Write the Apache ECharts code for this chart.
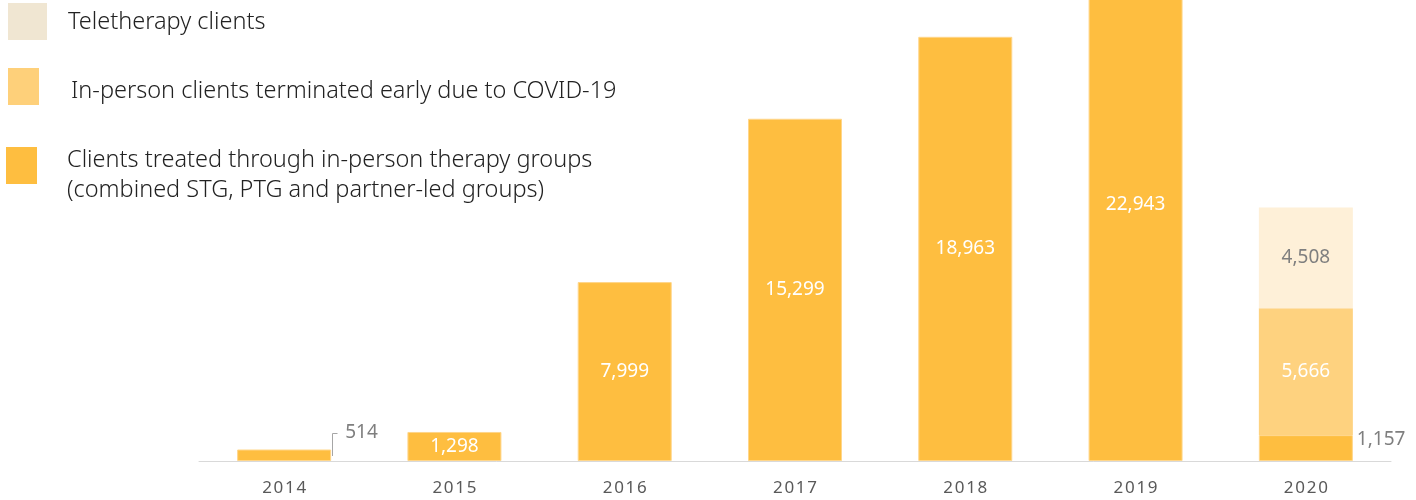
<!DOCTYPE html>
<html>
<head>
<meta charset="utf-8">
<script src="https://cdn.jsdelivr.net/npm/echarts@6/dist/echarts.min.js"></script>
<style>
html,body{margin:0;padding:0;background:#fff;}
#chart{width:1416px;height:500px;}
</style>
</head>
<body>
<div id="chart"></div>
<script>
const years = ['2014','2015','2016','2017','2018','2019','2020'];
const inPersonGroups = [514, 1298, 7999, 15299, 18963, 22943, 1157];
const terminatedEarly = [null, null, null, null, null, null, 5666];
const teletherapy = [null, null, null, null, null, null, 4508];
const legendLabels = [
  'Teletherapy clients',
  'In-person clients terminated early due to COVID-19',
  'Clients treated through in-person therapy groups\n(combined STG, PTG and partner-led groups)'
];

const C_MAIN = '#FEBE40', C_MID = '#FED27F', C_TOP = '#FEF0D8';
const FONT = 'Noto Sans';
const BAR_W = 94;
const fmt = v => Number(v).toLocaleString('en-US');

const chart = echarts.init(document.getElementById('chart'), null, {renderer:'canvas'});

const mainData = inPersonGroups.map((v, i) => {
  if (i === 0) {
    return {value: v,
            label: {show: true, position: [108, -17], align: 'left', verticalAlign: 'middle', color: '#7f7f7f'}};
  }
  if (i === 6) {
    return {value: v, label: {show: true, position: 'right', distance: 4, offset: [0, -8], color: '#7f7f7f'}};
  }
  return v;
});

const legendGraphics = [
  {type: 'rect', x: 8, y: 3, shape: {width: 39, height: 37}, style: {fill: '#F0E6D2'}},
  {type: 'text', x: 68, y: 22, style: {text: legendLabels[0], fill: '#222', font: '300 23.5px "Noto Sans"', verticalAlign: 'middle'}},
  {type: 'rect', x: 8, y: 68, shape: {width: 31, height: 37}, style: {fill: '#FED07A'}},
  {type: 'text', x: 71, y: 91, style: {text: legendLabels[1], fill: '#222', font: '300 23.5px "Noto Sans"', verticalAlign: 'middle'}},
  {type: 'rect', x: 6, y: 147, shape: {width: 31, height: 37}, style: {fill: C_MAIN}},
  {type: 'text', x: 67, y: 175, style: {text: legendLabels[2], fill: '#222', font: '300 23.5px "Noto Sans"', lineHeight: 30, verticalAlign: 'middle'}}
];

const option = {
  animation: false,
  grid: {left: 199, right: 25, top: 0, bottom: 39, containLabel: false},
  xAxis: {
    type: 'category',
    data: years,
    axisLine: {show: true, lineStyle: {color: '#d9d9d9', width: 1}},
    axisTick: {show: false},
    axisLabel: {
      color: '#595959', fontFamily: FONT, fontSize: 17, margin: 19,
      formatter: v => v.split('').join('\u200A')
    }
  },
  yAxis: {type: 'value', min: 0, max: 20608, show: false, splitLine: {show: false}},
  series: [
    {
      name: legendLabels[2], type: 'bar', stack: 'a', barWidth: BAR_W, clip: false,
      data: mainData,
      itemStyle: {color: C_MAIN, borderColor: '#FFD68A', borderWidth: 1},
      label: {show: true, position: 'inside', color: '#fff', fontFamily: FONT, fontSize: 19, formatter: p => fmt(p.value)}
    },
    {
      name: legendLabels[1], type: 'bar', stack: 'a', barWidth: BAR_W, clip: false,
      data: terminatedEarly,
      itemStyle: {color: C_MID},
      label: {show: true, position: 'inside', color: '#fff', fontFamily: FONT, fontSize: 19, formatter: p => fmt(p.value)}
    },
    {
      name: legendLabels[0], type: 'bar', stack: 'a', barWidth: BAR_W, clip: false,
      data: teletherapy,
      itemStyle: {color: C_TOP},
      label: {show: true, position: 'inside', color: '#7f7f7f', fontFamily: FONT, fontSize: 19, formatter: p => fmt(p.value)}
    }
  ],
  graphic: legendGraphics
};
chart.setOption(option);

// leader line for the small 2014 value, placed from the axis scales
const top2014 = chart.convertToPixel({xAxisIndex: 0, yAxisIndex: 0}, [0, inPersonGroups[0]]);
const xr = Math.round(top2014[0] + BAR_W / 2) + 1.5;
const yt = Math.round(top2014[1]);
chart.setOption({
  graphic: legendGraphics.concat([{
    type: 'polyline',
    shape: {points: [[xr, yt + 6], [xr, yt - 16.5], [xr + 5, yt - 16.5]]},
    style: {stroke: '#a6a6a6', lineWidth: 1, fill: null},
    z: 10
  }])
});
</script>
</body>
</html>
